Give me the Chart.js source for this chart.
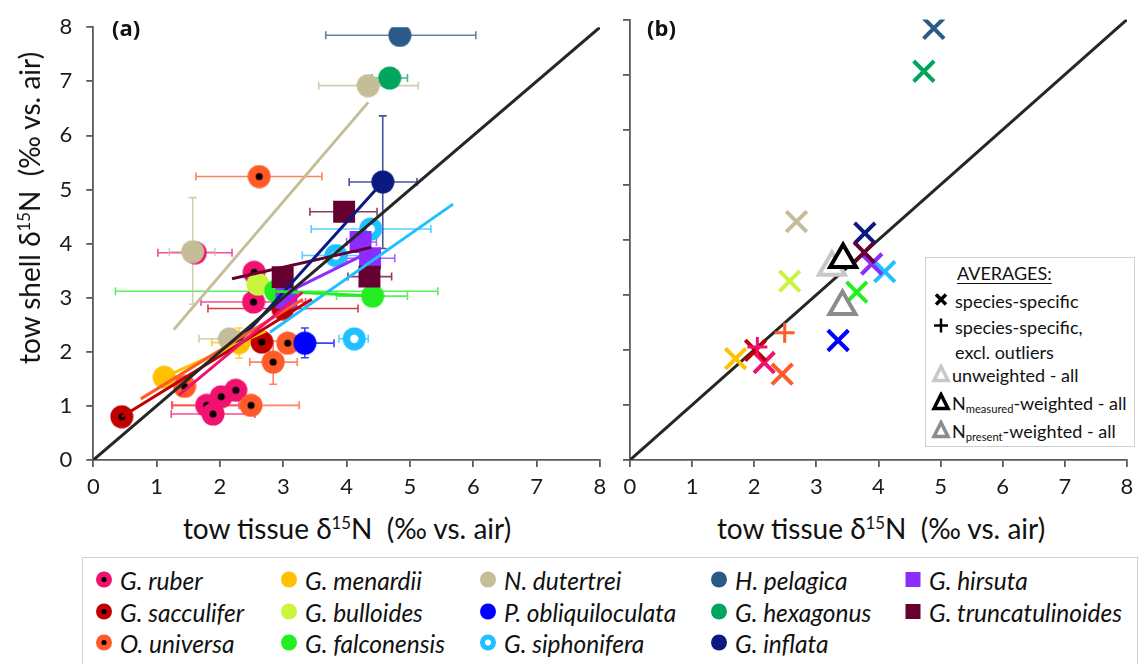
<!DOCTYPE html>
<html>
<head>
<meta charset="utf-8">
<script src="https://cdn.jsdelivr.net/npm/chart.js@4.4.1/dist/chart.umd.min.js"></script>
<style>
  body { margin: 0; background: #fff; }
  #page { position: relative; width: 1146px; height: 664px; overflow: hidden; font-family: Lato, "Open Sans", sans-serif; color: #111; }
  #page canvas { position: absolute; top: 0; }
  .tag { position: absolute; font-family: "Open Sans", Lato, sans-serif; font-weight: 700; font-size: 22px; line-height: 1; }
  .axis-title { position: absolute; font-size: 28px; white-space: nowrap; line-height: 1; transform: translate(-50%, -50%); }
  .axis-title.rot { transform: translate(-50%, -50%) rotate(-90deg); }
  sup { font-size: 0.6em; line-height: 0; vertical-align: 0.62em; }
  sub { font-size: 0.62em; line-height: 0; vertical-align: -0.3em; }
  .box { position: absolute; border: 1.5px solid #cfcfcf; background: #fff; }
  .item { position: absolute; white-space: nowrap; line-height: 1; transform: translateY(-50%); }
  .icon { position: absolute; transform: translate(-50%, -50%); }
  #species .item { font-size: 24.5px; font-style: italic; }
  #averages .item { font-size: 18px; }
</style>
</head>
<body>
<div id="page">
  <canvas id="panelA" width="620" height="500" style="left:0"></canvas>
  <canvas id="panelB" width="546" height="500" style="left:600px"></canvas>

  <div class="tag" style="left:112px; top:16px">(a)</div>
  <div class="tag" style="left:647px; top:16px">(b)</div>

  <div class="axis-title rot" style="left:29px; top:208px">tow shell δ<sup>15</sup>N&nbsp; (‰ vs. air)</div>
  <div class="axis-title" style="left:347px; top:528px">tow tissue δ<sup>15</sup>N&nbsp; (‰ vs. air)</div>
  <div class="axis-title" style="left:881px; top:528px">tow tissue δ<sup>15</sup>N&nbsp; (‰ vs. air)</div>

  <div id="averages" class="box" style="left:925px; top:257px; width:208px; height:188px"></div>
  <div id="species" class="box" style="left:82px; top:557px; width:1054px; height:140px"></div>
</div>

<script>
const speciesNames = ["G. ruber", "G. sacculifer", "O. universa", "G. menardii", "G. bulloides",
  "G. falconensis", "N. dutertrei", "P. obliquiloculata", "G. siphonifera", "H. pelagica",
  "G. hexagonus", "G. inflata", "G. hirsuta", "G. truncatulinoides"];
const speciesColors = ["#f0126e", "#c00000", "#ff5a28", "#ffc000", "#c9f53c",
  "#22ee22", "#c4bd97", "#0000ff", "#1ec0ff", "#2b5a86",
  "#00a65e", "#0b1a80", "#8c2cff", "#650030"];
const speciesMarkers = ["dot", "dot", "dot", "circle", "circle",
  "circle", "circle", "circle", "ring", "circle",
  "circle", "circle", "square", "square"];

// tow samples: [tissue, shell, tissue min, tissue max, shell min, shell max]
const ruberTow = [
  [1.61, 3.83, 1.02, 2.19, null, null],
  [2.54, 3.47, null, null, null, null],
  [2.53, 2.92, 1.70, 3.35, null, null],
  [2.25, 1.29, null, null, null, null],
  [2.02, 1.17, null, null, null, null],
  [1.79, 1.01, 1.24, 2.30, null, null],
  [1.89, 0.85, 1.23, 2.55, null, null]
];
const sacculiferTow = [
  [2.99, 2.80, 1.81, 4.18, null, null],
  [2.66, 2.18, null, null, null, null],
  [0.45, 0.80, null, null, null, null]
];
const universaTow = [
  [2.62, 5.24, 1.62, 3.61, null, null],
  [3.07, 2.16, null, null, null, null],
  [2.84, 1.81, 2.47, 3.22, 1.40, 2.20],
  [1.44, 1.36, null, null, null, null],
  [2.49, 1.01, 1.25, 3.25, null, null]
];
const menardiiTow = [
  [2.30, 2.17, 1.87, 2.60, 1.88, 2.44],
  [1.12, 1.53, null, null, null, null]
];
const bulloidesTow = [
  [2.60, 3.25, null, null, null, null]
];
const falconensisTow = [
  [2.88, 3.12, 0.35, 5.44, null, null],
  [4.41, 3.03, 3.84, 4.96, null, null]
];
const dutertreiTow = [
  [4.34, 6.92, 3.56, 5.13, null, null],
  [1.57, 3.85, 1.20, 1.92, 2.88, 4.85],
  [2.15, 2.24, 1.67, 2.50, null, null]
];
const obliquiloculataTow = [
  [3.34, 2.16, 3.00, 3.80, 1.89, 2.44]
];
const siphoniferaTow = [
  [4.38, 4.27, 3.44, 5.33, null, null],
  [3.83, 3.78, 3.30, 4.45, null, null],
  [4.12, 2.24, 3.88, 4.34, null, null]
];
const pelagicaTow = [
  [4.84, 7.85, 3.67, 6.04, null, null]
];
const hexagonusTow = [
  [4.68, 7.06, 4.40, 4.96, null, null]
];
const inflataTow = [
  [4.57, 5.14, 4.04, 5.11, 3.91, 6.36]
];
const hirsutaTow = [
  [4.22, 4.03, 4.00, 4.47, null, null],
  [4.37, 3.73, 4.00, 4.76, null, null],
  [3.05, 3.00, null, null, null, null]
];
const truncatulinoidesTow = [
  [3.96, 4.59, 3.42, 4.48, null, null],
  [4.36, 3.39, 4.02, 4.71, null, null],
  [2.99, 3.38, null, null, null, null]
];

// regression line end points [[x1, y1], [x2, y2]]
const ruberFit = [[1.35, 1.20], [3.30, 3.10]];
const sacculiferFit = [[0.45, 0.80], [3.45, 2.97]];
const universaFit = [[0.75, 1.13], [3.31, 2.97]];
const menardiiFit = [[1.12, 1.53], [2.72, 2.38]];
const falconensisFit = [[2.88, 3.12], [4.41, 3.03]];
const dutertreiFit = [[1.27, 2.41], [4.34, 6.61]];
const siphoniferaFit = [[2.79, 2.36], [5.68, 4.73]];
const inflataFit = [[2.10, 1.93], [4.57, 5.14]];
const hirsutaFit = [[3.05, 3.09], [4.37, 3.85]];
const truncatulinoidesFit = [[2.19, 3.35], [4.39, 3.93]];

const towData = [ruberTow, sacculiferTow, universaTow, menardiiTow, bulloidesTow,
  falconensisTow, dutertreiTow, obliquiloculataTow, siphoniferaTow, pelagicaTow,
  hexagonusTow, inflataTow, hirsutaTow, truncatulinoidesTow];
const towFits = [ruberFit, sacculiferFit, universaFit, menardiiFit, null,
  falconensisFit, dutertreiFit, null, siphoniferaFit, null,
  null, inflataFit, hirsutaFit, truncatulinoidesFit];

// species averages (panel b), same order as speciesNames
const avgTissue = [2.16, 2.02, 2.45, 1.70, 2.57, 3.65, 2.68, 3.35, 4.10, 4.89, 4.73, 3.78, 3.89, 3.77];
const avgShell = [1.77, 1.99, 1.56, 1.84, 3.25, 3.05, 4.33, 2.17, 3.42, 7.84, 7.06, 4.12, 3.56, 3.77];

// species averages without outliers
const exclNames = ["G. ruber", "O. universa"];
const exclTissue = [2.05, 2.49];
const exclShell = [2.05, 2.31];

// averages over all species
const allLabels = ["unweighted - all", "Nmeasured-weighted - all", "Npresent-weighted - all"];
const allTissue = [3.25, 3.43, 3.42];
const allShell = [3.50, 3.64, 2.79];
const allColors = ["#c8c8c8", "#000000", "#8c8c8c"];

const axisTicks = [0, 1, 2, 3, 4, 5, 6, 7, 8];

Chart.defaults.font.family = "Lato, 'Open Sans', sans-serif";

function fade(hex, a) {
  const n = parseInt(hex.slice(1), 16);
  return `rgba(${n >> 16}, ${(n >> 8) & 255}, ${n & 255}, ${a})`;
}

// round markers drawn once onto small canvases and used as point styles
function markerImage(kind, color) {
  const c = document.createElement("canvas");
  c.width = 24; c.height = 24;
  const g = c.getContext("2d");
  g.fillStyle = color;
  g.beginPath(); g.arc(12, 12, 11.5, 0, Math.PI * 2); g.fill();
  if (kind === "dot" || kind === "ring") {
    g.fillStyle = kind === "dot" ? "#000" : "#fff";
    g.beginPath(); g.arc(12, 12, kind === "dot" ? 3.5 : 4.2, 0, Math.PI * 2); g.fill();
  }
  return c;
}

function axisOptions(showLabels, fixedWidth) {
  const common = {
    type: "linear",
    min: 0,
    max: 8,
    afterBuildTicks: s => { s.ticks = axisTicks.map(v => ({ value: v })); },
    grid: { drawOnChartArea: false, drawTicks: true, tickLength: 7, color: "#5a5a5a", lineWidth: 1.8 },
    border: { color: "#5a5a5a", width: 1.8 }
  };
  return {
    x: Object.assign({}, common, {
      ticks: { font: { size: 22 }, color: "#1a1a1a", padding: 7, maxRotation: 0 },
      afterFit: s => { s.height = 40; }
    }),
    y: Object.assign({}, common, {
      ticks: { display: showLabels, font: { size: 22 }, color: "#1a1a1a", padding: 14 },
      afterFit: s => { s.width = fixedWidth; }
    })
  };
}

const errorBars = {
  id: "errorBars",
  beforeDatasetsDraw(chart) {
    const { ctx, scales: { x, y } } = chart;
    const cap = 4;
    ctx.save();
    ctx.lineWidth = 1.6;
    towData.forEach((rows, i) => {
      ctx.strokeStyle = fade(speciesColors[i], 0.75);
      rows.forEach(r => {
        const px = x.getPixelForValue(r[0]);
        const py = y.getPixelForValue(r[1]);
        ctx.beginPath();
        if (r[2] !== null) {
          const a = x.getPixelForValue(r[2]), b = x.getPixelForValue(r[3]);
          ctx.moveTo(a, py); ctx.lineTo(b, py);
          ctx.moveTo(a, py - cap); ctx.lineTo(a, py + cap);
          ctx.moveTo(b, py - cap); ctx.lineTo(b, py + cap);
        }
        if (r[4] !== null) {
          const a = y.getPixelForValue(r[4]), b = y.getPixelForValue(r[5]);
          ctx.moveTo(px, a); ctx.lineTo(px, b);
          ctx.moveTo(px - cap, a); ctx.lineTo(px + cap, a);
          ctx.moveTo(px - cap, b); ctx.lineTo(px + cap, b);
        }
        ctx.stroke();
      });
    });
    ctx.restore();
  }
};

const oneToOne = {
  data: [{ x: 0, y: 0 }, { x: 8, y: 8 }],
  showLine: true,
  borderColor: "#262626",
  borderWidth: 3,
  pointRadius: 0,
  order: 0
};

// panel (a): individual tow samples with fits
const datasetsA = [Object.assign({}, oneToOne)];
towFits.forEach((fit, i) => {
  if (!fit) return;
  datasetsA.push({
    data: fit.map(p => ({ x: p[0], y: p[1] })),
    showLine: true,
    borderColor: speciesColors[i],
    borderWidth: 3,
    pointRadius: 0,
    order: 1
  });
});
towData.forEach((rows, i) => {
  const kind = speciesMarkers[i];
  const ds = {
    label: speciesNames[i],
    data: rows.map(r => ({ x: r[0], y: r[1] })),
    backgroundColor: speciesColors[i],
    borderWidth: 0,
    order: 100 - i
  };
  if (kind === "square") {
    ds.pointStyle = "rect";
    ds.pointRadius = 15.5;
  } else {
    ds.pointStyle = markerImage(kind, speciesColors[i]);
    ds.pointRadius = 12;
  }
  datasetsA.push(ds);
});

new Chart(document.getElementById("panelA"), {
  type: "scatter",
  data: { datasets: datasetsA },
  options: {
    responsive: false,
    animation: false,
    devicePixelRatio: 1,
    layout: { padding: { top: 20, right: 20, left: 0, bottom: 0 } },
    plugins: { legend: { display: false }, tooltip: { enabled: false } },
    scales: axisOptions(true, 93.3)
  },
  plugins: [errorBars]
});

// panel (b): averages
new Chart(document.getElementById("panelB"), {
  type: "scatter",
  data: {
    datasets: [
      {
        data: allTissue.map((v, i) => ({ x: v, y: allShell[i] })),
        pointStyle: "triangle",
        pointRadius: 15,
        pointBorderWidth: 4,
        pointBorderColor: allColors,
        pointBackgroundColor: "#fff",
        order: 0
      },
      {
        data: exclTissue.map((v, i) => ({ x: v, y: exclShell[i] })),
        pointStyle: "cross",
        pointRadius: 10,
        pointBorderWidth: 3,
        pointBorderColor: exclNames.map(n => speciesColors[speciesNames.indexOf(n)]),
        order: 1
      },
      {
        data: avgTissue.map((v, i) => ({ x: v, y: avgShell[i] })),
        pointStyle: "crossRot",
        pointRadius: 14.5,
        pointBorderWidth: 4,
        pointBorderColor: speciesColors,
        order: 2
      },
      Object.assign({}, oneToOne, { order: 3 })
    ]
  },
  options: {
    responsive: false,
    animation: false,
    devicePixelRatio: 1,
    layout: { padding: { top: 19.5, right: 15.3, left: 0, bottom: 0 } },
    plugins: { legend: { display: false }, tooltip: { enabled: false } },
    scales: axisOptions(false, 30)
  }
});

// legend icons
function icon(kind, color, size) {
  const h = size / 2;
  let shape;
  if (kind === "square") shape = `<rect x="1" y="1" width="${size - 2}" height="${size - 2}" fill="${color}"/>`;
  else if (kind === "x") shape = `<path d="M3 3L${size - 3} ${size - 3}M${size - 3} 3L3 ${size - 3}" stroke="${color}" stroke-width="3.5"/>`;
  else if (kind === "plus") shape = `<path d="M${h} 1V${size - 1}M1 ${h}H${size - 1}" stroke="${color}" stroke-width="2.5"/>`;
  else if (kind === "tri") shape = `<path d="M${h} 3L${size - 3} ${size - 3}H3Z" fill="#fff" stroke="${color}" stroke-width="3.5" stroke-linejoin="miter"/>`;
  else {
    shape = `<circle cx="${h}" cy="${h}" r="${h - 0.5}" fill="${color}"/>`;
    if (kind === "dot") shape += `<circle cx="${h}" cy="${h}" r="2.6" fill="#000"/>`;
    if (kind === "ring") shape += `<circle cx="${h}" cy="${h}" r="3" fill="#fff"/>`;
  }
  return `<svg width="${size}" height="${size}" viewBox="0 0 ${size} ${size}">${shape}</svg>`;
}

// species legend, three rows per column
const legendColX = [21, 206, 405, 636, 830];
const legendRowY = [23, 55, 86];
const speciesBox = document.getElementById("species");
speciesNames.forEach((name, i) => {
  const col = Math.floor(i / 3), row = i % 3;
  const x = legendColX[col], y = legendRowY[row];
  speciesBox.insertAdjacentHTML("beforeend",
    `<div class="icon" style="left:${x}px; top:${y}px">${icon(speciesMarkers[i], speciesColors[i], 17)}</div>` +
    `<div class="item" style="left:${x + 16}px; top:${y}px">${name}</div>`);
});

// averages legend
const avgBox = document.getElementById("averages");
const avgRows = [
  { y: 43, kind: "x", color: "#000", text: "species-specific" },
  { y: 69, kind: "plus", color: "#000", text: "species-specific," },
  { y: 94, kind: null, text: "excl. outliers" },
  { y: 117, kind: "tri", color: allColors[0], text: allLabels[0] },
  { y: 145, kind: "tri", color: allColors[1], text: "N<sub>measured</sub>-weighted - all" },
  { y: 173, kind: "tri", color: allColors[2], text: "N<sub>present</sub>-weighted - all" }
];
avgBox.insertAdjacentHTML("beforeend",
  `<div class="item" style="left:31px; top:15px; text-decoration:underline; text-underline-offset:3px">AVERAGES:</div>`);
avgRows.forEach(r => {
  if (r.kind) {
    avgBox.insertAdjacentHTML("beforeend",
      `<div class="icon" style="left:15px; top:${r.y}px">${icon(r.kind, r.color, r.kind === "tri" ? 20 : 16)}</div>`);
  }
  avgBox.insertAdjacentHTML("beforeend",
    `<div class="item" style="left:${r.kind === "tri" ? 26 : 29}px; top:${r.y}px">${r.text}</div>`);
});
</script>
</body>
</html>
